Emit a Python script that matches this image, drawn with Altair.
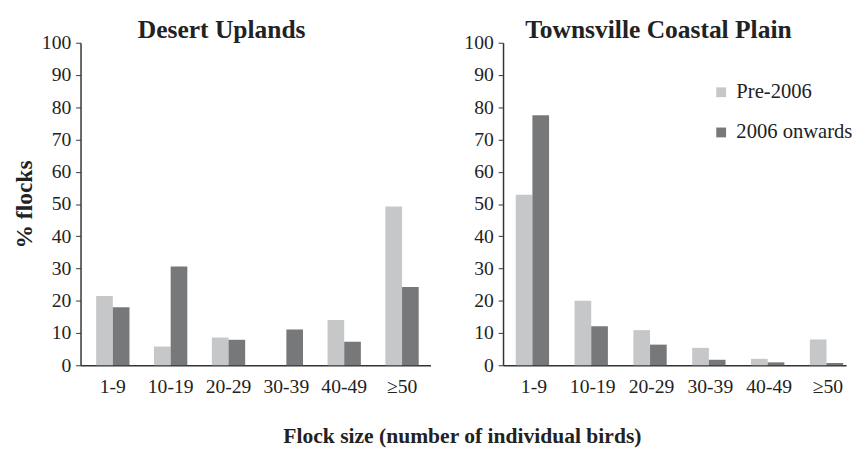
import altair as alt
import pandas as pd

categories = ["1-9", "10-19", "20-29", "30-39", "40-49", "≥50"]
series = ["Pre-2006", "2006 onwards"]
desert_pre = [21.5, 5.8, 8.6, 0.0, 14.0, 49.2]
desert_post = [18.0, 30.6, 7.9, 11.1, 7.3, 24.3]
towns_pre = [52.9, 20.0, 10.9, 5.4, 2.0, 8.0]
towns_post = [77.5, 12.1, 6.4, 1.7, 0.9, 0.7]

def frame(pre, post):
    rows = []
    for c, a, b in zip(categories, pre, post):
        rows.append({"cat": c, "series": series[0], "value": a})
        rows.append({"cat": c, "series": series[1], "value": b})
    return pd.DataFrame(rows)

FONT = "Times New Roman, Liberation Serif, serif"
color_scale = alt.Scale(domain=series, range=["#c6c7c9", "#77787a"])

def panel(df, title, width, show_ytitle, show_legend, pin, pout, align):
    legend = None
    if show_legend:
        legend = alt.Legend(title=None, orient="none", legendX=212, legendY=40,
                            symbolType="square", symbolSize=100, symbolStrokeWidth=0,
                            labelFont=FONT, labelFontSize=21, labelColor="#222",
                            rowPadding=19, labelOffset=5)
    return alt.Chart(df).mark_bar().encode(
        x=alt.X("cat:N", sort=categories, title=None,
                scale=alt.Scale(paddingInner=pin, paddingOuter=pout, align=align),
                axis=alt.Axis(labelAngle=0, ticks=False, labelPadding=12,
                              labelFont=FONT, labelFontSize=20, labelColor="#222",
                              domainColor="#333", domainWidth=1.5)),
        xOffset=alt.XOffset("series:N", sort=series,
                            scale=alt.Scale(paddingInner=0, paddingOuter=0)),
        y=alt.Y("value:Q", scale=alt.Scale(domain=[0, 100]),
                title="% flocks" if show_ytitle else None,
                axis=alt.Axis(values=list(range(0, 101, 10)), grid=False,
                              tickSize=5, tickColor="#333", domainColor="#333",
                              domainWidth=1.5, labelFont=FONT, labelFontSize=20,
                              labelColor="#222", labelPadding=5,
                              titleFont=FONT, titleFontSize=24, titleFontWeight="bold",
                              titleColor="#222", titlePadding=5)),
        color=alt.Color("series:N", scale=color_scale, sort=series, legend=legend),
    ).properties(
        width=width, height=329,
        title=alt.TitleParams(title, font=FONT, fontSize=26, fontWeight="bold",
                              color="#222", anchor="middle", frame="bounds", offset=-10),
    )

left = panel(frame(desert_pre, desert_post), "Desert Uplands", 357, True, False,
             0.424, 0.237, 0.57)
right = panel(frame(towns_pre, towns_post), "Townsville Coastal Plain", 350, False, True,
              0.383, 0.108, 1.0)

chart = alt.hconcat(left, right, spacing=34).resolve_legend(color="independent").properties(
    title=alt.TitleParams("Flock size (number of individual birds)", orient="bottom",
                          anchor="middle", font=FONT, fontSize=22, fontWeight="bold",
                          color="#222", offset=30, dx=30),
    padding={"left": 5, "top": 5, "right": 0, "bottom": 0},
).configure_view(stroke=None)

chart.save("out.html", embed_options={"renderer": "svg", "actions": False})
